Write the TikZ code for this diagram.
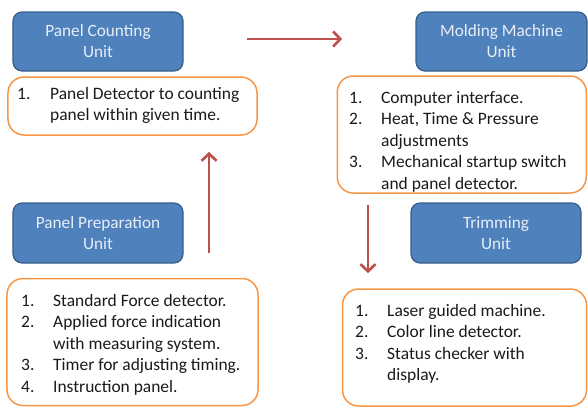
\documentclass[tikz,border=0pt]{standalone}
\usepackage{fontspec}
\setmainfont{Carlito}
\usetikzlibrary{arrows.meta}
\definecolor{unitfill}{HTML}{4F81BD}
\definecolor{unitborder}{HTML}{385D8A}
\definecolor{unittext}{HTML}{E8EEF6}
\definecolor{listborder}{HTML}{F79646}
\definecolor{flowred}{HTML}{C0504D}
\definecolor{itemtext}{HTML}{1A1A1A}
\begin{document}
\begin{tikzpicture}[x=1bp,y=-1bp,
 unit/.style={draw=unitborder, fill=unitfill, line width=1.2bp, rounded corners=9bp,
   text=unittext, align=center, font=\fontsize{17.3}{21}\selectfont, inner sep=0pt},
 list/.style={draw=listborder, line width=1.5bp, rounded corners=16bp, fill=white, inner sep=0pt},
 items/.style={align=left, font=\fontsize{17.5}{21.5}\selectfont, inner sep=0pt,
   anchor=base west, text=itemtext},
 flow/.style={draw=flowred, line width=2.6bp, -{Straight Barb[length=7bp,width=15bp]}},
 flowshadow/.style={draw=black, opacity=0.18, line width=2.6bp, -{Straight Barb[length=7bp,width=15bp]}}
]
\useasboundingbox (0,0) rectangle (588,407);

% units
\node[unit, minimum width=170bp, minimum height=59bp] (pcu) at (98,41.5) {Panel Counting\\Unit};
\node[unit, minimum width=171bp, minimum height=59bp] (mmu) at (501.5,41.5) {Molding Machine\\Unit};
\node[unit, minimum width=170bp, minimum height=60bp] (ppu) at (98,233) {Panel Preparation\\Unit};
\node[unit, minimum width=170bp, minimum height=60bp] (tru) at (496,233) {Trimming\\Unit};

% lists
\node[list, minimum width=249bp, minimum height=58bp] (pcl) at (132.5,106) {};
\node[list, minimum width=249bp, minimum height=117bp] (mml) at (461.75,134.5) {};
\node[list, minimum width=251bp, minimum height=127bp] (ppl) at (132.5,342) {};
\node[list, minimum width=244bp, minimum height=117bp] (trl) at (464.5,347.5) {};

% item lists (anchored at the baseline of their last line)
\node[items] (pct) at (17,120.5) {\makebox[33bp][l]{1.}Panel Detector to counting\\
\hspace*{33bp}panel within given time.};

\node[items] (mmt) at (349,189) {\makebox[32bp][l]{1.}Computer interface.\\
\makebox[32bp][l]{2.}Heat, Time \& Pressure\\
\hspace*{32bp}adjustments\\
\makebox[32bp][l]{3.}Mechanical startup switch\\
\hspace*{32bp}and panel detector.};

\node[items] (ppt) at (21,392) {\makebox[32bp][l]{1.}Standard Force detector.\\
\makebox[32bp][l]{2.}Applied force indication\\
\hspace*{32bp}with measuring system.\\
\makebox[32bp][l]{3.}Timer for adjusting timing.\\
\makebox[32bp][l]{4.}Instruction panel.};

\node[items] (trt) at (355,380.5) {\makebox[32bp][l]{1.}Laser guided machine.\\
\makebox[32bp][l]{2.}Color line detector.\\
\makebox[32bp][l]{3.}Status checker with\\
\hspace*{32bp}display.};

% arrows
\coordinate (r1) at (247,39);
\coordinate (r2) at (342,39);
\coordinate (u1) at (209,253);
\coordinate (u2) at (209,152);
\coordinate (d1) at (368,205);
\coordinate (d2) at (368,273);
\begin{scope}[shift={(1.5,1.8)}]
\draw[flowshadow] (r1) -- (r2);
\draw[flowshadow] (u1) -- (u2);
\draw[flowshadow] (d1) -- (d2);
\end{scope}
\draw[flow] (r1) -- (r2);
\draw[flow] (u1) -- (u2);
\draw[flow] (d1) -- (d2);
\end{tikzpicture}
\end{document}
